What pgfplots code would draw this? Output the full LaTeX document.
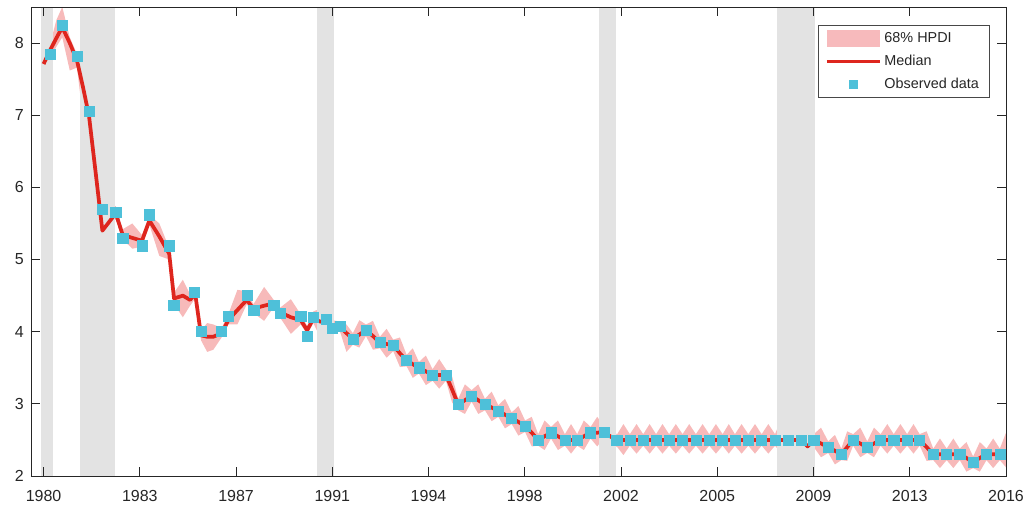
\documentclass[border=0pt]{standalone}
\usepackage{fontspec}
\setmainfont{Liberation Sans}
\usepackage{pgfplots}
\pgfplotsset{compat=1.18}
\usepgfplotslibrary{fillbetween}
\usepackage{pgfplotstable}

\definecolor{bandpink}{RGB}{230,40,40}
\definecolor{bandlegend}{RGB}{247,186,188}
\definecolor{medred}{RGB}{222,38,30}
\definecolor{obscyan}{RGB}{78,192,217}
\definecolor{recgray}{RGB}{227,227,227}
\definecolor{axgray}{RGB}{38,38,38}

\pgfplotstableread{
x med lo hi
1980.00 7.71 7.37 7.93
1980.27 7.92 7.80 8.02
1980.48 8.07 7.95 8.32
1980.70 8.22 8.08 8.50
1980.98 8.00 7.62 8.08
1981.25 7.76 7.66 7.85
1981.48 7.38 6.95 7.52
1981.70 6.99 6.78 7.12
1981.95 6.20 6.10 6.32
1982.20 5.40 5.22 5.72
1982.45 5.52 5.42 5.76
1982.70 5.64 5.56 5.74
1982.96 5.34 5.28 5.42
1983.32 5.30 5.15 5.50
1983.68 5.26 5.18 5.34
1983.96 5.54 5.48 5.62
1984.33 5.32 5.05 5.50
1984.70 5.08 5.00 5.16
1984.88 4.46 4.38 4.54
1985.21 4.50 4.20 4.72
1985.48 4.44 4.36 4.52
1985.67 4.53 4.46 4.60
1985.89 3.95 3.88 4.02
1986.12 3.93 3.72 4.12
1986.35 3.93 3.75 4.10
1986.66 3.98 3.92 4.05
1986.91 4.16 4.10 4.24
1987.25 4.30 4.10 4.58
1987.60 4.44 4.38 4.56
1987.85 4.32 4.26 4.38
1988.25 4.36 4.15 4.62
1988.59 4.39 4.33 4.45
1988.84 4.27 4.20 4.33
1989.25 4.20 3.97 4.45
1989.62 4.16 4.10 4.24
1989.86 4.02 3.96 4.08
1990.09 4.18 4.12 4.28
1990.35 4.14 3.92 4.32
1990.59 4.13 4.07 4.20
1990.78 4.09 4.02 4.16
1991.09 4.07 4.00 4.14
1991.33 3.98 3.72 4.10
1991.57 3.90 3.82 3.98
1991.81 3.96 3.78 4.16
1992.06 4.02 3.94 4.10
1992.32 3.94 3.75 4.15
1992.58 3.85 3.77 3.93
1992.83 3.83 3.64 4.04
1993.08 3.81 3.73 3.89
1993.33 3.70 3.51 3.92
1993.58 3.60 3.52 3.68
1993.81 3.55 3.36 3.77
1994.04 3.50 3.42 3.58
1994.30 3.45 3.26 3.67
1994.55 3.40 3.32 3.48
1994.80 3.40 3.21 3.62
1995.05 3.40 3.32 3.48
1995.28 3.20 3.02 3.38
1995.51 2.99 2.91 3.07
1995.76 3.05 2.86 3.27
1996.01 3.11 3.03 3.19
1996.26 3.05 2.86 3.27
1996.51 2.99 2.91 3.07
1996.76 2.95 2.76 3.17
1997.01 2.90 2.82 2.98
1997.26 2.85 2.66 3.07
1997.51 2.80 2.72 2.88
1997.76 2.75 2.56 2.97
1998.01 2.69 2.61 2.77
1998.26 2.60 2.41 2.82
1998.50 2.50 2.42 2.58
1998.74 2.55 2.36 2.77
1998.98 2.60 2.52 2.68
1999.24 2.55 2.36 2.77
1999.50 2.50 2.42 2.58
1999.73 2.50 2.31 2.72
1999.96 2.50 2.42 2.58
2000.21 2.55 2.36 2.77
2000.46 2.60 2.52 2.68
2000.71 2.60 2.41 2.82
2000.96 2.61 2.53 2.69
2001.20 2.55 2.33 2.77
2001.44 2.49 2.41 2.57
2001.69 2.50 2.29 2.72
2001.93 2.50 2.42 2.58
2002.18 2.50 2.31 2.72
2002.43 2.50 2.42 2.58
2002.67 2.50 2.31 2.72
2002.91 2.50 2.42 2.58
2003.15 2.50 2.31 2.72
2003.40 2.50 2.42 2.58
2003.65 2.50 2.31 2.72
2003.90 2.50 2.42 2.58
2004.15 2.50 2.31 2.72
2004.40 2.50 2.42 2.58
2004.65 2.50 2.31 2.72
2004.90 2.50 2.42 2.58
2005.15 2.50 2.31 2.72
2005.40 2.50 2.42 2.58
2005.63 2.50 2.31 2.72
2005.86 2.50 2.42 2.58
2006.11 2.50 2.31 2.72
2006.36 2.50 2.42 2.58
2006.61 2.50 2.31 2.72
2006.86 2.50 2.42 2.58
2007.11 2.50 2.31 2.72
2007.36 2.50 2.42 2.58
2007.60 2.50 2.31 2.80
2007.85 2.50 2.40 2.60
2008.10 2.50 2.28 2.74
2008.35 2.50 2.38 2.62
2008.58 2.41 2.18 2.66
2008.81 2.50 2.40 2.58
2009.08 2.45 2.26 2.67
2009.35 2.40 2.32 2.48
2009.60 2.35 2.16 2.57
2009.84 2.30 2.22 2.38
2010.06 2.40 2.21 2.62
2010.28 2.50 2.42 2.58
2010.55 2.45 2.26 2.67
2010.81 2.40 2.32 2.48
2011.06 2.45 2.26 2.67
2011.31 2.50 2.42 2.58
2011.56 2.50 2.31 2.72
2011.80 2.50 2.42 2.58
2012.05 2.50 2.31 2.72
2012.30 2.50 2.42 2.58
2012.54 2.50 2.31 2.72
2012.77 2.50 2.42 2.58
2013.03 2.40 2.21 2.62
2013.28 2.30 2.22 2.38
2013.53 2.30 2.11 2.52
2013.78 2.30 2.22 2.38
2014.03 2.30 2.11 2.52
2014.27 2.30 2.22 2.38
2014.52 2.25 2.06 2.47
2014.77 2.19 2.11 2.27
2015.02 2.25 2.06 2.47
2015.27 2.30 2.22 2.38
2015.52 2.30 2.11 2.52
2015.77 2.30 2.22 2.38
2016.00 2.30 2.12 2.60
}\band

\pgfplotstableread{
x y
1980.24 7.85
1980.70 8.25
1981.25 7.82
1981.70 7.05
1982.20 5.70
1982.70 5.66
1982.96 5.30
1983.68 5.19
1983.96 5.62
1984.70 5.19
1984.87 4.37
1985.65 4.55
1985.90 4.00
1986.66 4.00
1986.91 4.21
1987.61 4.50
1987.86 4.30
1988.61 4.37
1988.84 4.25
1989.62 4.21
1989.85 3.94
1990.09 4.20
1990.58 4.17
1990.80 4.05
1991.10 4.08
1991.57 3.90
1992.06 4.02
1992.58 3.85
1993.08 3.81
1993.58 3.60
1994.04 3.50
1994.55 3.40
1995.05 3.40
1995.51 2.99
1996.01 3.11
1996.51 2.99
1997.01 2.90
1997.51 2.80
1998.01 2.69
1998.50 2.50
1998.98 2.60
1999.50 2.50
1999.96 2.50
2000.46 2.60
2000.96 2.61
2001.44 2.49
2001.93 2.50
2002.43 2.50
2002.91 2.50
2003.40 2.50
2003.90 2.50
2004.40 2.50
2004.90 2.50
2005.40 2.50
2005.86 2.50
2006.36 2.50
2006.86 2.50
2007.36 2.50
2007.85 2.50
2008.35 2.50
2008.81 2.50
2009.35 2.40
2009.84 2.30
2010.28 2.50
2010.81 2.40
2011.31 2.50
2011.80 2.50
2012.30 2.50
2012.77 2.50
2013.28 2.30
2013.78 2.30
2014.27 2.30
2014.77 2.19
2015.27 2.30
2015.77 2.30
}\obs

\begin{document}
\begin{tikzpicture}
\begin{axis}[
  at={(0pt,0pt)}, anchor=south west,
  scale only axis, width=731.25pt, height=351.75pt,
  xmin=1979.53, xmax=2016, ymin=2, ymax=8.5,
  xtick={1980,1983.6,1987.2,1990.8,1994.4,1998,2001.6,2005.2,2008.8,2012.4,2016},
  xticklabels={1980,1983,1987,1991,1994,1998,2002,2005,2009,2013,2016},
  ytick={2,3,4,5,6,7,8},
  tick align=inside, major tick length=6.75pt,
  axis line style={axgray, line width=0.6pt},
  tick style={axgray, line width=0.6pt},
  ticklabel style={font=\fontsize{12}{14}\selectfont, text=axgray},
  xticklabel style={yshift=-7.5pt},
  yticklabel style={xshift=-1.8pt},
  /pgf/number format/assume math mode=true,
  axis on top,
  legend cell align=left,
  legend style={at={(0.9829,0.9616)}, anchor=north east, draw=axgray!85,
    line width=0.6pt, font=\fontsize{10.8}{13}\selectfont, text=axgray,
    inner xsep=5.5pt, inner ysep=3pt, row sep=4.2pt, column sep=0pt},
]
\addlegendimage{legend image code/.code={\fill[bandlegend, draw=none] (0pt,-6.3pt) rectangle (40pt,6.3pt);}}
\addlegendentry{68\% HPDI}
\addlegendimage{legend image code/.code={\path[draw=none, fill=none] (0pt,-6.3pt) rectangle (40pt,6.3pt); \draw[medred, line width=2.4pt] (0pt,0pt) -- (40pt,0pt);}}
\addlegendentry{Median}
\addlegendimage{legend image code/.code={\path[draw=none, fill=none] (0pt,-6.3pt) rectangle (40pt,6.3pt); \fill[obscyan, draw=none] (16.5pt,-3.5pt) rectangle (23.5pt,3.5pt);}}
\addlegendentry{Observed data}

% recession shading
\addplot[fill=recgray, draw=none, forget plot] coordinates {(1979.90,2) (1979.90,8.5) (1980.34,8.5) (1980.34,2)} -- cycle;
\addplot[fill=recgray, draw=none, forget plot] coordinates {(1981.36,2) (1981.36,8.5) (1982.67,8.5) (1982.67,2)} -- cycle;
\addplot[fill=recgray, draw=none, forget plot] coordinates {(1990.24,2) (1990.24,8.5) (1990.87,8.5) (1990.87,2)} -- cycle;
\addplot[fill=recgray, draw=none, forget plot] coordinates {(2000.76,2) (2000.76,8.5) (2001.40,8.5) (2001.40,2)} -- cycle;
\addplot[fill=recgray, draw=none, forget plot] coordinates {(2007.42,2) (2007.42,8.5) (2008.85,8.5) (2008.85,2)} -- cycle;

% HPDI band
\addplot[draw=none, name path=hi, forget plot] table[x=x, y=hi] {\band};
\addplot[draw=none, name path=lo, forget plot] table[x=x, y=lo] {\band};
\addplot[fill=bandpink, fill opacity=0.32, draw=none, forget plot] fill between[of=hi and lo];

% median
\addplot[medred, line width=2.8pt, line join=round, forget plot] table[x=x, y=med] {\band};

% observed
\addplot[only marks, mark=square*, mark size=3.8pt,
  mark options={fill=obscyan, draw=obscyan, line width=0.4pt, rounded corners=1.2pt}, forget plot] table[x=x, y=y] {\obs};
\end{axis}
\path (-23.25pt,-23.25pt) rectangle (749.25pt,357pt);
\end{tikzpicture}
\end{document}
